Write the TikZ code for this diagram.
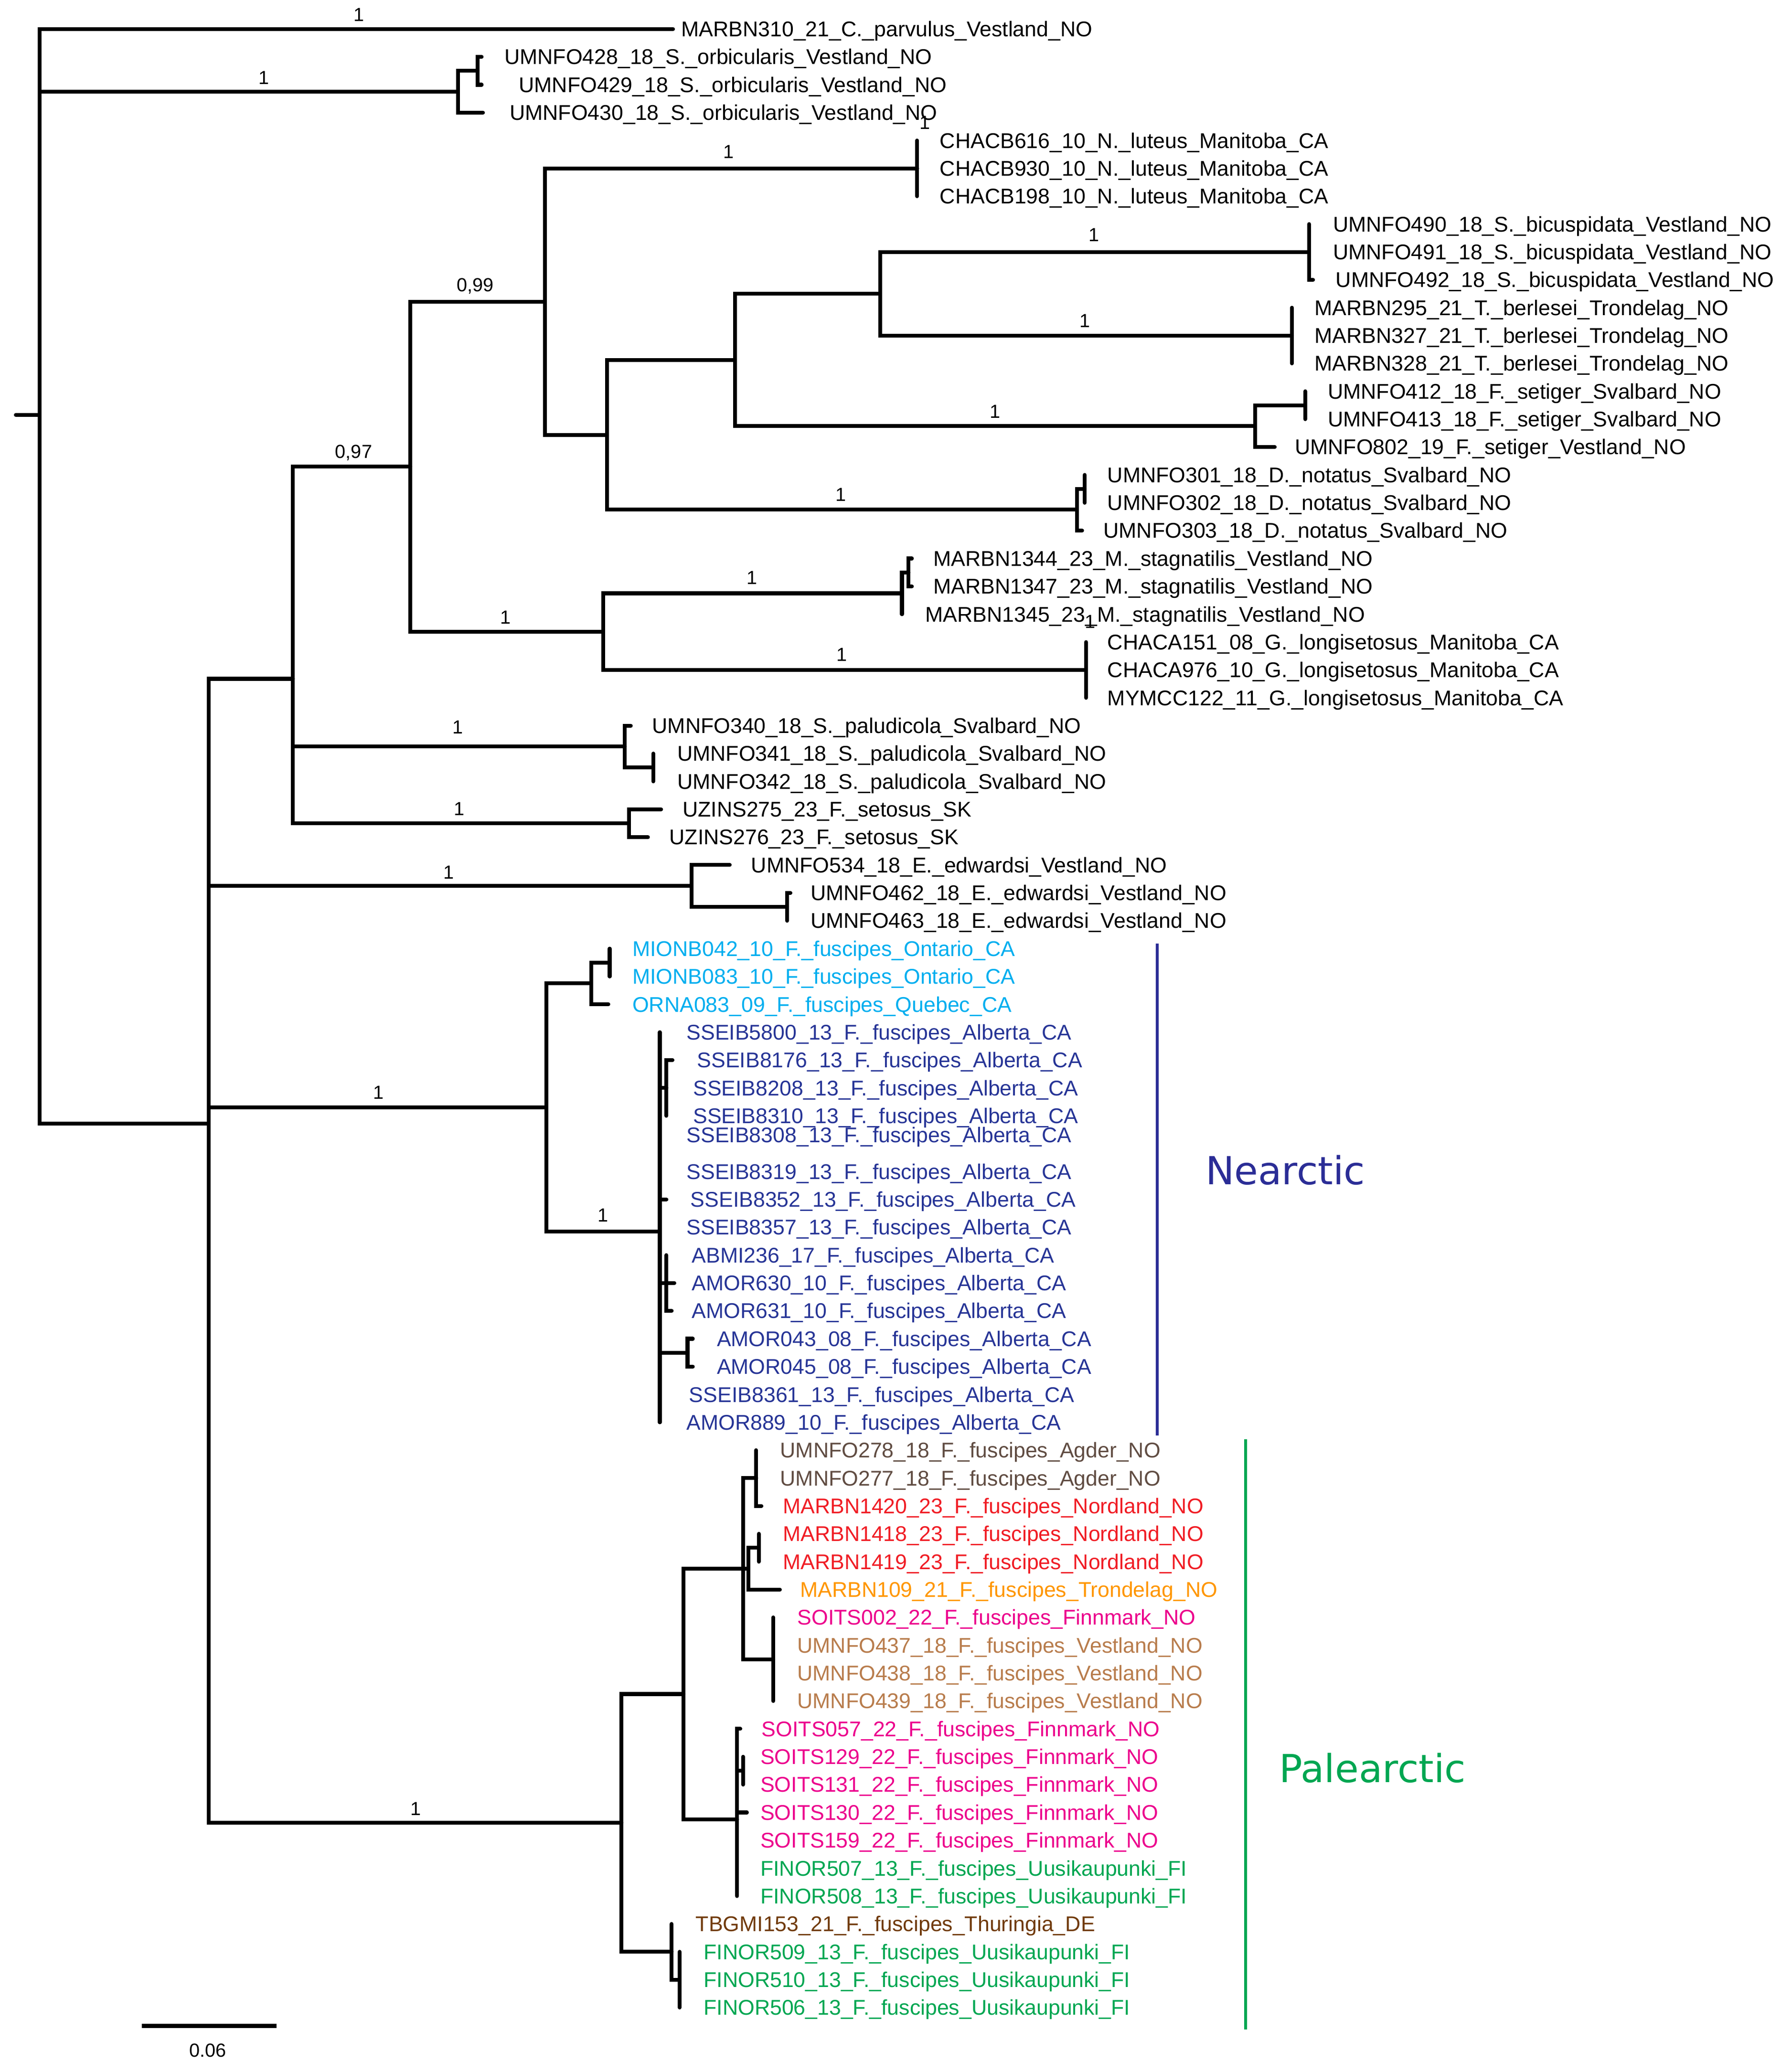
\documentclass[tikz,border=0pt]{standalone}
\usepackage{fontspec}
\setmainfont{Liberation Sans}
\newfontfamily\regfont{DejaVu Sans}
\definecolor{ontblue}{RGB}{0,174,239}
\definecolor{albblue}{RGB}{38,52,150}
\definecolor{agdbrown}{RGB}{96,76,66}
\definecolor{norred}{RGB}{240,28,36}
\definecolor{troorange}{RGB}{255,150,0}
\definecolor{finmag}{RGB}{236,0,140}
\definecolor{vestan}{RGB}{184,124,76}
\definecolor{thubrown}{RGB}{112,58,12}
\definecolor{uusgreen}{RGB}{0,166,81}
\definecolor{neablue}{RGB}{43,45,150}
\newcommand{\rowy}[1]{22+(#1-1)*21.12}
\tikzset{
  br/.style={line width=2.3pt, line cap=round},
  lab/.style={anchor=west, inner sep=0pt, text height=9pt, text depth=0pt, font=\fontsize{12.7}{15}\selectfont},
  bs/.style={inner sep=0pt, font=\fontsize{11.3}{13}\selectfont},
  region/.style={line width=1.6pt},
  regtext/.style={inner sep=0pt, font=\regfont\fontsize{23}{27}\selectfont}
}
\begin{document}
\begin{tikzpicture}[x=0.02763cm, y=-0.02763cm]
   \useasboundingbox (0,0) rectangle (1349.6,1570.4);
   \coordinate (stub) at (12,{\rowy{14.845}});
   \coordinate (root) at (30,{\rowy{14.845}});
   \coordinate (orb) at (347,{\rowy{3.25}});
   \coordinate (orb1) at (362,{\rowy{2.5}});
   \coordinate (c158) at (158,{\rowy{40.286}});
   \coordinate (c221) at (222,{\rowy{24.318}});
   \coordinate (c311) at (311,{\rowy{16.703}});
   \coordinate (c413) at (413,{\rowy{10.781}});
   \coordinate (lut) at (695,{\rowy{6}});
   \coordinate (c460) at (460,{\rowy{15.5625}});
   \coordinate (c557) at (557,{\rowy{12.875}});
   \coordinate (c667) at (667,{\rowy{10.5}});
   \coordinate (bic) at (992,{\rowy{9}});
   \coordinate (ber) at (979,{\rowy{12}});
   \coordinate (set) at (951,{\rowy{15.25}});
   \coordinate (set1) at (989,{\rowy{14.5}});
   \coordinate (not) at (816,{\rowy{18.25}});
   \coordinate (not1) at (822,{\rowy{17.5}});
   \coordinate (c457) at (457,{\rowy{22.625}});
   \coordinate (sta) at (683.5,{\rowy{21.25}});
   \coordinate (sta1) at (688.5,{\rowy{20.5}});
   \coordinate (lon) at (823,{\rowy{24}});
   \coordinate (pal) at (473.5,{\rowy{26.75}});
   \coordinate (pal1) at (495,{\rowy{27.5}});
   \coordinate (seto) at (476.5,{\rowy{29.5}});
   \coordinate (edw) at (524,{\rowy{31.75}});
   \coordinate (edw1) at (596.5,{\rowy{32.5}});
   \coordinate (nea) at (414,{\rowy{39.7}});
   \coordinate (ont) at (448,{\rowy{35.25}});
   \coordinate (ont1) at (462,{\rowy{34.5}});
   \coordinate (alb) at (500,{\rowy{44.15}});
   \coordinate (alb1) at (505,{\rowy{39}});
   \coordinate (alb2) at (505,{\rowy{46}});
   \coordinate (alb3) at (521,{\rowy{48.5}});
   \coordinate (fpal) at (471,{\rowy{65.375}});
   \coordinate (fa) at (518,{\rowy{60.75}});
   \coordinate (fb) at (563,{\rowy{56.25}});
   \coordinate (fagd) at (573,{\rowy{53}});
   \coordinate (fnt) at (567,{\rowy{56.25}});
   \coordinate (fnor) at (575,{\rowy{55.5}});
   \coordinate (fves) at (586,{\rowy{59.5}});
   \coordinate (ffin) at (558.6,{\rowy{65.25}});
   \coordinate (ffin1) at (563,{\rowy{63.5}});
   \coordinate (fthu) at (509,{\rowy{70}});
   \coordinate (ffi) at (515,{\rowy{71}});
   \coordinate (t1) at (510,{\rowy{1}});
   \coordinate (t2) at (365,{\rowy{2}});
   \coordinate (t3) at (365,{\rowy{3}});
   \coordinate (t4) at (366,{\rowy{4}});
   \coordinate (t5) at (695,{\rowy{5}});
   \coordinate (t6) at (695,{\rowy{6}});
   \coordinate (t7) at (695,{\rowy{7}});
   \coordinate (t8) at (992,{\rowy{8}});
   \coordinate (t9) at (992,{\rowy{9}});
   \coordinate (t10) at (995,{\rowy{10}});
   \coordinate (t11) at (979,{\rowy{11}});
   \coordinate (t12) at (979,{\rowy{12}});
   \coordinate (t13) at (979,{\rowy{13}});
   \coordinate (t14) at (989,{\rowy{14}});
   \coordinate (t15) at (989,{\rowy{15}});
   \coordinate (t16) at (966,{\rowy{16}});
   \coordinate (t17) at (822,{\rowy{17}});
   \coordinate (t18) at (822,{\rowy{18}});
   \coordinate (t19) at (820,{\rowy{19}});
   \coordinate (t20) at (691,{\rowy{20}});
   \coordinate (t21) at (691,{\rowy{21}});
   \coordinate (t22) at (683.5,{\rowy{22}});
   \coordinate (t23) at (823,{\rowy{23}});
   \coordinate (t24) at (823,{\rowy{24}});
   \coordinate (t25) at (823,{\rowy{25}});
   \coordinate (t26) at (478,{\rowy{26}});
   \coordinate (t27) at (495,{\rowy{27}});
   \coordinate (t28) at (495,{\rowy{28}});
   \coordinate (t29) at (501,{\rowy{29}});
   \coordinate (t30) at (491,{\rowy{30}});
   \coordinate (t31) at (553,{\rowy{31}});
   \coordinate (t32) at (599,{\rowy{32}});
   \coordinate (t33) at (596.5,{\rowy{33}});
   \coordinate (t34) at (462,{\rowy{34}});
   \coordinate (t35) at (462,{\rowy{35}});
   \coordinate (t36) at (461,{\rowy{36}});
   \coordinate (t37) at (500,{\rowy{37}});
   \coordinate (t38) at (509.6,{\rowy{38}});
   \coordinate (t39) at (505,{\rowy{39}});
   \coordinate (t40) at (505,{\rowy{40}});
   \coordinate (t41) at (500,{\rowy{41}});
   \coordinate (t42) at (500,{\rowy{42}});
   \coordinate (t43) at (505,{\rowy{43}});
   \coordinate (t44) at (500,{\rowy{44}});
   \coordinate (t45) at (505,{\rowy{45}});
   \coordinate (t46) at (511,{\rowy{46}});
   \coordinate (t47) at (509,{\rowy{47}});
   \coordinate (t48) at (525,{\rowy{48}});
   \coordinate (t49) at (525,{\rowy{49}});
   \coordinate (t50) at (500,{\rowy{50}});
   \coordinate (t51) at (500,{\rowy{51}});
   \coordinate (t52) at (573,{\rowy{52}});
   \coordinate (t53) at (573,{\rowy{53}});
   \coordinate (t54) at (577,{\rowy{54}});
   \coordinate (t55) at (575,{\rowy{55}});
   \coordinate (t56) at (575,{\rowy{56}});
   \coordinate (t57) at (591,{\rowy{57}});
   \coordinate (t58) at (586,{\rowy{58}});
   \coordinate (t59) at (586,{\rowy{59}});
   \coordinate (t60) at (586,{\rowy{60}});
   \coordinate (t61) at (586,{\rowy{61}});
   \coordinate (t62) at (561,{\rowy{62}});
   \coordinate (t63) at (563,{\rowy{63}});
   \coordinate (t64) at (563,{\rowy{64}});
   \coordinate (t65) at (566,{\rowy{65}});
   \coordinate (t66) at (558.6,{\rowy{66}});
   \coordinate (t67) at (558.6,{\rowy{67}});
   \coordinate (t68) at (558.6,{\rowy{68}});
   \coordinate (t69) at (509,{\rowy{69}});
   \coordinate (t70) at (515,{\rowy{70}});
   \coordinate (t71) at (515,{\rowy{71}});
   \coordinate (t72) at (515,{\rowy{72}});
   \draw[br] (stub) -- (root);
   \draw[br] (root) |- (t1) (root) |- (orb) (root) |- (c158);
   \draw[br] (orb) |- (orb1) (orb) |- (t4) (orb1) |- (t2) (orb1) |- (t3);
   \draw[br] (c158) |- (c221) (c158) |- (edw) (c158) |- (nea) (c158) |- (fpal);
   \draw[br] (c221) |- (c311) (c221) |- (pal) (c221) |- (seto);
   \draw[br] (c311) |- (c413) (c311) |- (c457);
   \draw[br] (c413) |- (lut) (c413) |- (c460);
   \draw[br] (lut) |- (t5) (lut) |- (t6) (lut) |- (t7);
   \draw[br] (c460) |- (c557) (c460) |- (not);
   \draw[br] (c557) |- (c667) (c557) |- (set);
   \draw[br] (c667) |- (bic) (c667) |- (ber);
   \draw[br] (bic) |- (t8) (bic) |- (t9) (bic) |- (t10);
   \draw[br] (ber) |- (t11) (ber) |- (t12) (ber) |- (t13);
   \draw[br] (set) |- (set1) (set) |- (t16) (set1) |- (t14) (set1) |- (t15);
   \draw[br] (not) |- (not1) (not) |- (t19) (not1) |- (t17) (not1) |- (t18);
   \draw[br] (c457) |- (sta) (c457) |- (lon);
   \draw[br] (sta) |- (sta1) (sta) |- (t22) (sta1) |- (t20) (sta1) |- (t21);
   \draw[br] (lon) |- (t23) (lon) |- (t24) (lon) |- (t25);
   \draw[br] (pal) |- (t26) (pal) |- (pal1) (pal1) |- (t27) (pal1) |- (t28);
   \draw[br] (seto) |- (t29) (seto) |- (t30);
   \draw[br] (edw) |- (t31) (edw) |- (edw1) (edw1) |- (t32) (edw1) |- (t33);
   \draw[br] (nea) |- (ont) (nea) |- (alb);
   \draw[br] (ont) |- (ont1) (ont) |- (t36) (ont1) |- (t34) (ont1) |- (t35);
   \draw[br] (alb) |- (t37) (alb) |- (alb1) (alb) |- (t41) (alb) |- (t42) (alb) |- (t43)
             (alb) |- (t44) (alb) |- (alb2) (alb) |- (alb3) (alb) |- (t50) (alb) |- (t51);
   \draw[br] (alb1) |- (t38) (alb1) |- (t39) (alb1) |- (t40);
   \draw[br] (alb2) |- (t45) (alb2) |- (t46) (alb2) |- (t47);
   \draw[br] (alb3) |- (t48) (alb3) |- (t49);
   \draw[br] (fpal) |- (fa) (fpal) |- (fthu);
   \draw[br] (fa) |- (fb) (fa) |- (ffin);
   \draw[br] (fb) |- (fagd) (fb) |- (fnt) (fb) |- (fves);
   \draw[br] (fagd) |- (t52) (fagd) |- (t53) (fagd) |- (t54);
   \draw[br] (fnt) |- (fnor) (fnt) |- (t57) (fnor) |- (t55) (fnor) |- (t56);
   \draw[br] (fves) |- (t58) (fves) |- (t59) (fves) |- (t60) (fves) |- (t61);
   \draw[br] (ffin) |- (t62) (ffin) |- (ffin1) (ffin) |- (t65) (ffin) |- (t66)
             (ffin) |- (t67) (ffin) |- (t68) (ffin1) |- (t63) (ffin1) |- (t64);
   \draw[br] (fthu) |- (t69) (fthu) |- (ffi) (ffi) |- (t70) (ffi) |- (t71) (ffi) |- (t72);
   \node[lab] (n1) at (516,{\rowy{1}}) {MARBN310\_21\_C.\_parvulus\_Vestland\_NO};
   \node[lab] (n2) at (382,{\rowy{2}}) {UMNFO428\_18\_S.\_orbicularis\_Vestland\_NO};
   \node[lab] (n3) at (393,{\rowy{3}}) {UMNFO429\_18\_S.\_orbicularis\_Vestland\_NO};
   \node[lab] (n4) at (386,{\rowy{4}}) {UMNFO430\_18\_S.\_orbicularis\_Vestland\_NO};
   \node[lab] (n5) at (712,{\rowy{5}}) {CHACB616\_10\_N.\_luteus\_Manitoba\_CA};
   \node[lab] (n6) at (712,{\rowy{6}}) {CHACB930\_10\_N.\_luteus\_Manitoba\_CA};
   \node[lab] (n7) at (712,{\rowy{7}}) {CHACB198\_10\_N.\_luteus\_Manitoba\_CA};
   \node[lab] (n8) at (1010,{\rowy{8}}) {UMNFO490\_18\_S.\_bicuspidata\_Vestland\_NO};
   \node[lab] (n9) at (1010,{\rowy{9}}) {UMNFO491\_18\_S.\_bicuspidata\_Vestland\_NO};
   \node[lab] (n10) at (1012,{\rowy{10}}) {UMNFO492\_18\_S.\_bicuspidata\_Vestland\_NO};
   \node[lab] (n11) at (996,{\rowy{11}}) {MARBN295\_21\_T.\_berlesei\_Trondelag\_NO};
   \node[lab] (n12) at (996,{\rowy{12}}) {MARBN327\_21\_T.\_berlesei\_Trondelag\_NO};
   \node[lab] (n13) at (996,{\rowy{13}}) {MARBN328\_21\_T.\_berlesei\_Trondelag\_NO};
   \node[lab] (n14) at (1006,{\rowy{14}}) {UMNFO412\_18\_F.\_setiger\_Svalbard\_NO};
   \node[lab] (n15) at (1006,{\rowy{15}}) {UMNFO413\_18\_F.\_setiger\_Svalbard\_NO};
   \node[lab] (n16) at (981,{\rowy{16}}) {UMNFO802\_19\_F.\_setiger\_Vestland\_NO};
   \node[lab] (n17) at (839,{\rowy{17}}) {UMNFO301\_18\_D.\_notatus\_Svalbard\_NO};
   \node[lab] (n18) at (839,{\rowy{18}}) {UMNFO302\_18\_D.\_notatus\_Svalbard\_NO};
   \node[lab] (n19) at (836,{\rowy{19}}) {UMNFO303\_18\_D.\_notatus\_Svalbard\_NO};
   \node[lab] (n20) at (707,{\rowy{20}}) {MARBN1344\_23\_M.\_stagnatilis\_Vestland\_NO};
   \node[lab] (n21) at (707,{\rowy{21}}) {MARBN1347\_23\_M.\_stagnatilis\_Vestland\_NO};
   \node[lab] (n22) at (701,{\rowy{22}}) {MARBN1345\_23\_M.\_stagnatilis\_Vestland\_NO};
   \node[lab] (n23) at (839,{\rowy{23}}) {CHACA151\_08\_G.\_longisetosus\_Manitoba\_CA};
   \node[lab] (n24) at (839,{\rowy{24}}) {CHACA976\_10\_G.\_longisetosus\_Manitoba\_CA};
   \node[lab] (n25) at (839,{\rowy{25}}) {MYMCC122\_11\_G.\_longisetosus\_Manitoba\_CA};
   \node[lab] (n26) at (494,{\rowy{26}}) {UMNFO340\_18\_S.\_paludicola\_Svalbard\_NO};
   \node[lab] (n27) at (513,{\rowy{27}}) {UMNFO341\_18\_S.\_paludicola\_Svalbard\_NO};
   \node[lab] (n28) at (513,{\rowy{28}}) {UMNFO342\_18\_S.\_paludicola\_Svalbard\_NO};
   \node[lab] (n29) at (517,{\rowy{29}}) {UZINS275\_23\_F.\_setosus\_SK};
   \node[lab] (n30) at (507,{\rowy{30}}) {UZINS276\_23\_F.\_setosus\_SK};
   \node[lab] (n31) at (569,{\rowy{31}}) {UMNFO534\_18\_E.\_edwardsi\_Vestland\_NO};
   \node[lab] (n32) at (614,{\rowy{32}}) {UMNFO462\_18\_E.\_edwardsi\_Vestland\_NO};
   \node[lab] (n33) at (614,{\rowy{33}}) {UMNFO463\_18\_E.\_edwardsi\_Vestland\_NO};
   \node[lab,ontblue] (n34) at (479,{\rowy{34}}) {MIONB042\_10\_F.\_fuscipes\_Ontario\_CA};
   \node[lab,ontblue] (n35) at (479,{\rowy{35}}) {MIONB083\_10\_F.\_fuscipes\_Ontario\_CA};
   \node[lab,ontblue] (n36) at (479,{\rowy{36}}) {ORNA083\_09\_F.\_fuscipes\_Quebec\_CA};
   \node[lab,albblue] (n37) at (520,{\rowy{37}}) {SSEIB5800\_13\_F.\_fuscipes\_Alberta\_CA};
   \node[lab,albblue] (n38) at (528,{\rowy{38}}) {SSEIB8176\_13\_F.\_fuscipes\_Alberta\_CA};
   \node[lab,albblue] (n39) at (525,{\rowy{39}}) {SSEIB8208\_13\_F.\_fuscipes\_Alberta\_CA};
   \node[lab,albblue] (n40) at (525,{\rowy{40}}) {SSEIB8310\_13\_F.\_fuscipes\_Alberta\_CA};
   \node[lab,albblue] (n41) at (520,860) {SSEIB8308\_13\_F.\_fuscipes\_Alberta\_CA};
   \node[lab,albblue] (n42) at (520,{\rowy{42}}) {SSEIB8319\_13\_F.\_fuscipes\_Alberta\_CA};
   \node[lab,albblue] (n43) at (523,{\rowy{43}}) {SSEIB8352\_13\_F.\_fuscipes\_Alberta\_CA};
   \node[lab,albblue] (n44) at (520,{\rowy{44}}) {SSEIB8357\_13\_F.\_fuscipes\_Alberta\_CA};
   \node[lab,albblue] (n45) at (524,{\rowy{45}}) {ABMI236\_17\_F.\_fuscipes\_Alberta\_CA};
   \node[lab,albblue] (n46) at (524,{\rowy{46}}) {AMOR630\_10\_F.\_fuscipes\_Alberta\_CA};
   \node[lab,albblue] (n47) at (524,{\rowy{47}}) {AMOR631\_10\_F.\_fuscipes\_Alberta\_CA};
   \node[lab,albblue] (n48) at (543,{\rowy{48}}) {AMOR043\_08\_F.\_fuscipes\_Alberta\_CA};
   \node[lab,albblue] (n49) at (543,{\rowy{49}}) {AMOR045\_08\_F.\_fuscipes\_Alberta\_CA};
   \node[lab,albblue] (n50) at (522,{\rowy{50}}) {SSEIB8361\_13\_F.\_fuscipes\_Alberta\_CA};
   \node[lab,albblue] (n51) at (520,{\rowy{51}}) {AMOR889\_10\_F.\_fuscipes\_Alberta\_CA};
   \node[lab,agdbrown] (n52) at (591,{\rowy{52}}) {UMNFO278\_18\_F.\_fuscipes\_Agder\_NO};
   \node[lab,agdbrown] (n53) at (591,{\rowy{53}}) {UMNFO277\_18\_F.\_fuscipes\_Agder\_NO};
   \node[lab,norred] (n54) at (593,{\rowy{54}}) {MARBN1420\_23\_F.\_fuscipes\_Nordland\_NO};
   \node[lab,norred] (n55) at (593,{\rowy{55}}) {MARBN1418\_23\_F.\_fuscipes\_Nordland\_NO};
   \node[lab,norred] (n56) at (593,{\rowy{56}}) {MARBN1419\_23\_F.\_fuscipes\_Nordland\_NO};
   \node[lab,troorange] (n57) at (606,{\rowy{57}}) {MARBN109\_21\_F.\_fuscipes\_Trondelag\_NO};
   \node[lab,finmag] (n58) at (604,{\rowy{58}}) {SOITS002\_22\_F.\_fuscipes\_Finnmark\_NO};
   \node[lab,vestan] (n59) at (604,{\rowy{59}}) {UMNFO437\_18\_F.\_fuscipes\_Vestland\_NO};
   \node[lab,vestan] (n60) at (604,{\rowy{60}}) {UMNFO438\_18\_F.\_fuscipes\_Vestland\_NO};
   \node[lab,vestan] (n61) at (604,{\rowy{61}}) {UMNFO439\_18\_F.\_fuscipes\_Vestland\_NO};
   \node[lab,finmag] (n62) at (577,{\rowy{62}}) {SOITS057\_22\_F.\_fuscipes\_Finnmark\_NO};
   \node[lab,finmag] (n63) at (576,{\rowy{63}}) {SOITS129\_22\_F.\_fuscipes\_Finnmark\_NO};
   \node[lab,finmag] (n64) at (576,{\rowy{64}}) {SOITS131\_22\_F.\_fuscipes\_Finnmark\_NO};
   \node[lab,finmag] (n65) at (576,{\rowy{65}}) {SOITS130\_22\_F.\_fuscipes\_Finnmark\_NO};
   \node[lab,finmag] (n66) at (576,{\rowy{66}}) {SOITS159\_22\_F.\_fuscipes\_Finnmark\_NO};
   \node[lab,uusgreen] (n67) at (576,{\rowy{67}}) {FINOR507\_13\_F.\_fuscipes\_Uusikaupunki\_FI};
   \node[lab,uusgreen] (n68) at (576,{\rowy{68}}) {FINOR508\_13\_F.\_fuscipes\_Uusikaupunki\_FI};
   \node[lab,thubrown] (n69) at (527,{\rowy{69}}) {TBGMI153\_21\_F.\_fuscipes\_Thuringia\_DE};
   \node[lab,uusgreen] (n70) at (533,{\rowy{70}}) {FINOR509\_13\_F.\_fuscipes\_Uusikaupunki\_FI};
   \node[lab,uusgreen] (n71) at (533,{\rowy{71}}) {FINOR510\_13\_F.\_fuscipes\_Uusikaupunki\_FI};
   \node[lab,uusgreen] (n72) at (533,{\rowy{72}}) {FINOR506\_13\_F.\_fuscipes\_Uusikaupunki\_FI};
   \node[bs] (s1) at (272,11) {1};
   \node[bs] (s2) at (200,59) {1};
   \node[bs] (s3) at (701,93) {1};
   \node[bs] (s4) at (552,115) {1};
   \node[bs] (s5) at (360,217) {0,99};
   \node[bs] (s6) at (829,178) {1};
   \node[bs] (s7) at (822,243) {1};
   \node[bs] (s8) at (754,312) {1};
   \node[bs] (s9) at (637,375) {1};
   \node[bs] (s10) at (268,343) {0,97};
   \node[bs] (s11) at (570,438) {1};
   \node[bs] (s12) at (826,471) {1};
   \node[bs] (s13) at (383,468) {1};
   \node[bs] (s14) at (638,496) {1};
   \node[bs] (s15) at (347,551) {1};
   \node[bs] (s16) at (348,613) {1};
   \node[bs] (s17) at (340,661) {1};
   \node[bs] (s18) at (287,828) {1};
   \node[bs] (s19) at (457,921) {1};
   \node[bs] (s20) at (315,1371) {1};
   \coordinate (neatop) at (877,715);
   \coordinate (neabot) at (877,1088);
   \coordinate (paltop) at (944,1091);
   \coordinate (palbot) at (944,1538);
   \draw[region,neablue] (neatop) -- (neabot);
   \draw[region,uusgreen] (paltop) -- (palbot);
   \node[regtext,neablue] (neatxt) at (974,887) {Nearctic};
   \node[regtext,uusgreen] (paltxt) at (1040,1340) {Palearctic};
   \coordinate (sbl) at (107.4,1535.4);
   \coordinate (sbr) at (209.6,1535.4);
   \draw[line width=2.4pt] (sbl) -- (sbr);
   \node[bs] (sbtxt) at (157.4,1554) {0.06};
\end{tikzpicture}
\end{document}
